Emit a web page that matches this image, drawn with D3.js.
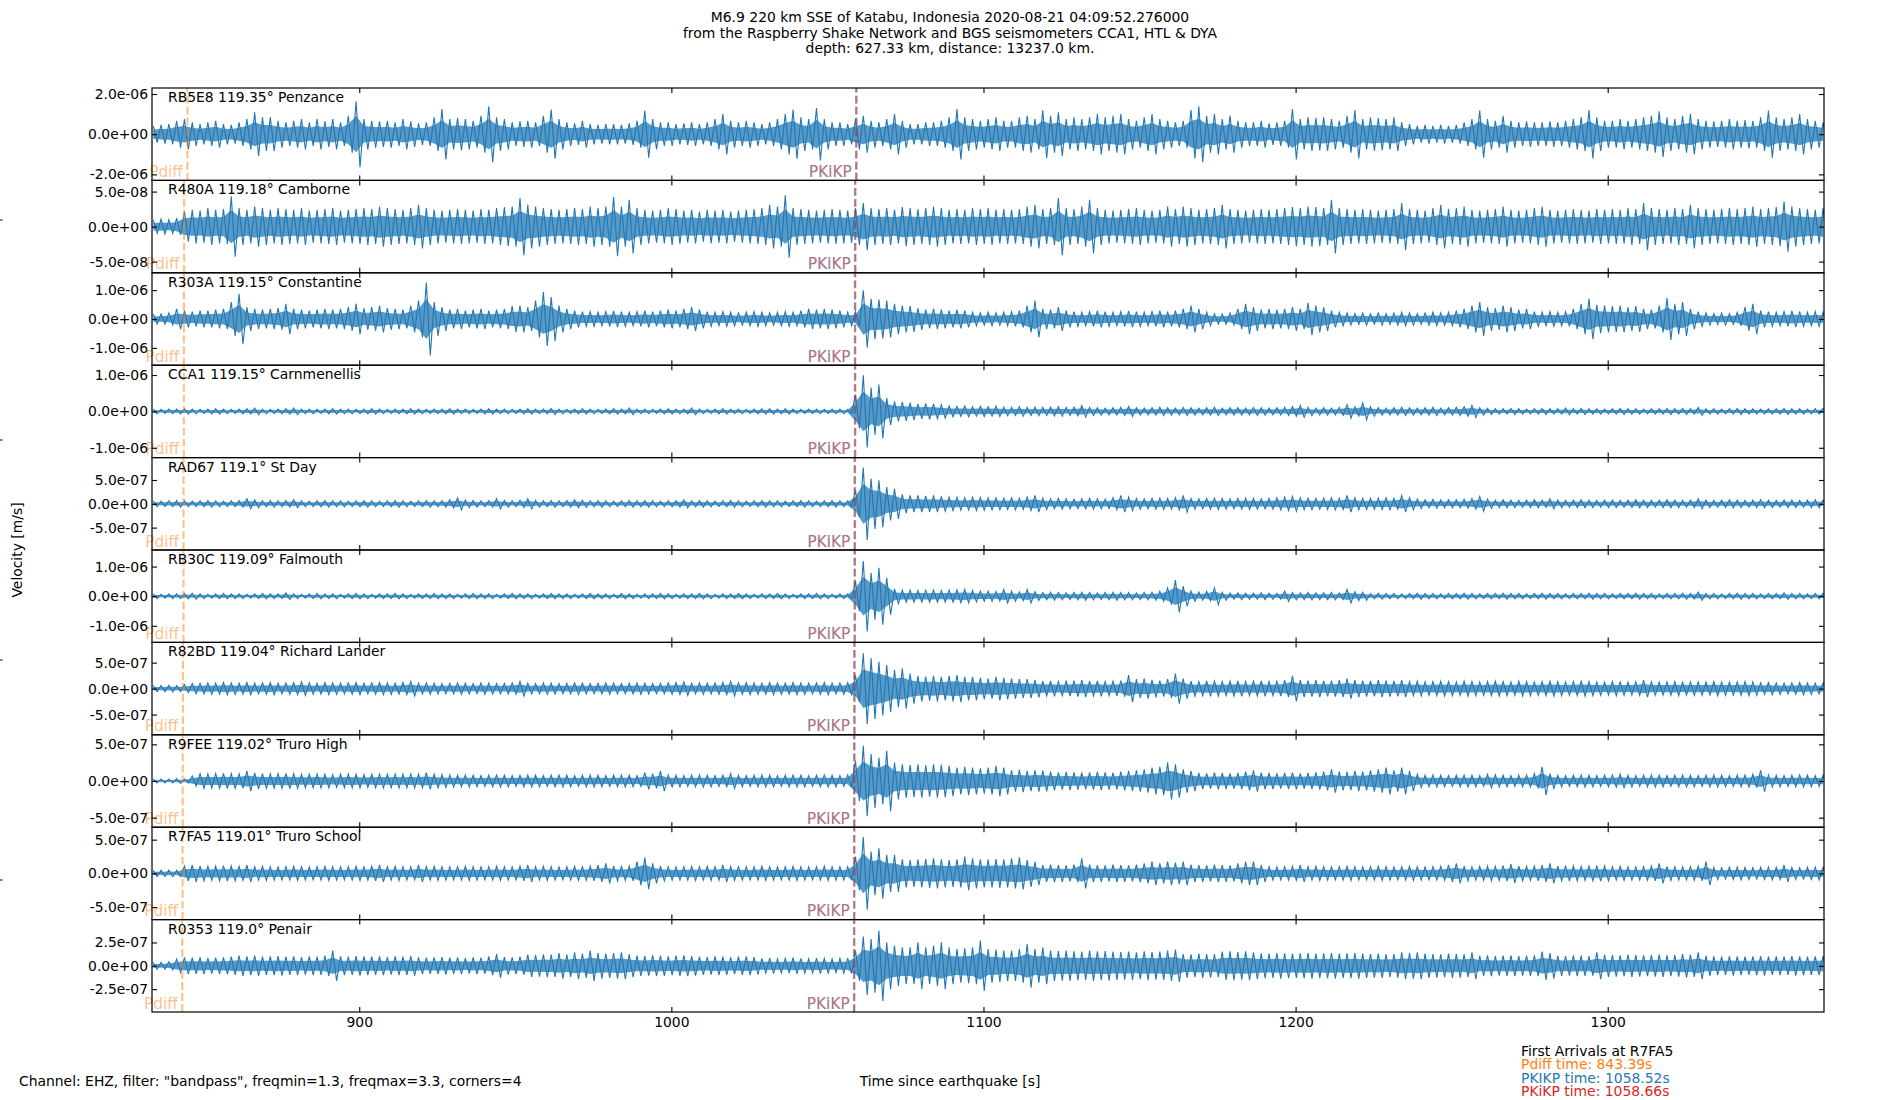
<!DOCTYPE html>
<html>
<head>
<meta charset="utf-8">
<script src="https://cdn.jsdelivr.net/npm/d3@7"></script>
<style>
  body { margin: 0; background: #fff; }
  svg text { font-family: "DejaVu Sans", sans-serif; }
</style>
</head>
<body>
<div id="chart"></div>
<script>
// station info, top panel to bottom panel
const stations  = ["RB5E8", "R480A", "R303A", "CCA1", "RAD67", "RB30C", "R82BD", "R9FEE", "R7FA5", "R0353"];
const distances = [119.35, 119.18, 119.15, 119.15, 119.1, 119.09, 119.04, 119.02, 119.01, 119.0];
const places    = ["Penzance", "Camborne", "Constantine", "Carnmenellis", "St Day", "Falmouth",
                   "Richard Lander", "Truro High", "Truro School", "Penair"];

// arrival times (s since origin) per station
const pdiffTimes = [844.95, 843.9, 843.8, 843.8, 843.7, 843.7, 843.5, 843.45, 843.39, 843.3];
const pkikpTimes = [1059.17, 1058.84, 1058.79, 1058.79, 1058.70, 1058.68, 1058.58, 1058.54, 1058.52, 1058.50];
const pkikpTimes2 = [1059.32, 1058.98, 1058.93, 1058.93, 1058.84, 1058.82, 1058.72, 1058.68, 1058.66, 1058.64]; // PKiKP

// peak velocity of each trace (m/s), y limits and y tick step
const peakVelocity = [1.64e-6, 4.46e-8, 1.26e-6, 9.9e-7, 7.6e-7, 1.19e-6, 6.8e-7, 4.81e-7, 5.38e-7, 3.78e-7];
const yLimits      = [2.3e-6, 6.6e-8, 1.6e-6, 1.27e-6, 9.7e-7, 1.56e-6, 8.9e-7, 6.3e-7, 6.85e-7, 4.95e-7];
const yTickSteps   = [2e-6, 5e-8, 1e-6, 1e-6, 5e-7, 1e-6, 5e-7, 5e-7, 5e-7, 2.5e-7];
const xTicks = [900, 1000, 1100, 1200, 1300];
const xDomain = [833.6, 1369.3];

// trace envelopes (relative amplitude), one value every 2.5 s from 834 s
const startTime = 834, sampleStep = 2.5;
const envRB5E8 = [
  25,28,30,40,45,35,30,35,40,30, 28,35,45,65,50,50,40,35,40,45, 35,45,38,45,35,55,98,45,40,38,
  40,35,45,38,32,35,50,75,45,48, 45,40,55,83,50,45,35,38,40,35, 55,73,45,35,32,40,30,28,30,30,
  28,32,40,70,45,35,35,30,32,35, 30,35,45,60,40,35,40,35,30,35, 45,60,73,50,45,78,45,35,35,30,
  45,55,40,35,45,60,40,30,30,35, 35,40,50,75,50,45,40,45,50,40, 40,50,55,45,71,55,65,45,50,45,
  50,60,50,55,60,45,40,50,60,45, 40,35,40,72,83,55,60,45,55,40, 35,35,40,32,35,40,75,45,50,48,
  50,45,40,55,72,45,50,48,45,50, 35,30,25,28,25,28,25,28,35,45, 70,45,40,55,40,35,38,35,35,38,
  35,40,45,50,72,50,40,40,45,40, 45,50,55,68,50,45,55,60,45,40, 38,40,45,40,42,40,50,70,50,45,
  50,60,45,40,35];
const envR480A = [
  20,22,20,25,45,50,48,55,50,52, 90,55,50,60,55,50,55,52,50,55, 48,50,52,55,48,50,52,55,52,60,
  55,52,50,55,65,55,50,48,50,52, 50,48,52,50,55,58,60,85,65,60, 55,52,50,52,55,52,60,55,60,88,
  60,80,55,50,48,50,55,52,48,50, 45,50,48,50,45,48,50,52,55,65, 60,93,55,52,50,48,50,52,50,48,
  55,70,55,52,55,50,58,55,52,55, 60,55,50,52,50,55,52,55,50,52, 50,52,60,65,52,55,85,55,52,60,
  80,55,50,48,50,52,55,50,48,50, 60,52,60,55,50,52,55,65,52,50, 48,50,52,50,52,55,58,55,60,58,
  55,80,55,52,50,52,50,48,50,52, 70,52,50,48,55,65,52,55,60,50, 48,50,52,60,50,48,50,55,60,50,
  48,50,52,50,48,52,50,52,50,55, 52,70,55,52,50,55,52,65,55,52, 50,52,55,52,55,60,52,55,58,75,
  60,55,52,50,55];
const envR303A = [
  15,15,18,30,25,22,25,25,28,30, 50,75,35,30,28,30,32,45,30,28, 25,28,30,28,30,35,45,32,35,40,
  32,30,28,40,55,108,50,35,28,30, 25,28,30,25,28,30,38,40,35,55, 80,65,40,30,25,22,22,20,22,24,
  22,20,22,25,22,25,28,25,30,35, 28,22,20,22,20,18,20,22,20,18, 20,22,20,25,30,28,30,28,25,20,
  22,85,60,58,55,45,40,38,32,28, 30,28,25,28,25,20,18,20,18,20, 22,25,40,55,30,28,35,25,22,20,
  22,25,22,20,22,24,22,20,22,25, 22,25,30,40,30,20,15,15,18,30, 45,35,28,30,28,30,35,30,48,40,
  35,25,20,18,16,18,15,18,16,18, 20,18,16,18,20,18,20,25,30,40, 50,35,32,40,35,28,30,22,20,22,
  20,22,30,45,60,42,40,38,40,35, 38,30,28,40,62,45,50,30,22,18, 16,18,16,20,35,45,25,22,20,22,
  24,22,20,22,20];
const envCCA1 = [
  7,6,7,7,8,7,6,7,8,7, 6,7,8,10,7,6,7,8,10,7, 7,6,7,8,7,7,6,7,8,7,
  6,7,7,8,7,6,7,7,8,7, 7,6,7,8,7,7,6,7,8,7, 7,9,7,6,7,8,7,6,7,8,
  7,10,7,7,6,7,8,7,7,10, 7,6,7,8,7,7,6,7,8,8, 7,8,7,6,7,7,6,7,7,6,
  50,107,70,80,40,30,28,26,22,24, 22,20,16,15,16,14,15,14,15,13, 12,14,12,13,12,13,14,12,13,17,
  12,11,10,11,12,15,11,10,11,12, 11,10,12,11,10,11,12,10,11,11, 10,12,11,10,11,12,14,18,12,10,
  11,10,12,20,14,25,14,11,10,11, 12,11,10,11,12,10,11,12,14,18, 11,9,8,8,9,8,7,8,9,8,
  8,10,8,9,8,8,7,8,9,8, 8,7,8,8,9,8,9,8,12,8, 8,7,8,9,8,8,7,8,8,9,
  8,8,7,8,9];
const envRAD67 = [
  9,8,9,10,9,8,9,10,9,8, 9,10,15,12,9,10,9,10,12,9, 8,9,10,9,9,8,9,10,9,8,
  9,10,9,8,9,10,9,10,12,18, 11,10,9,10,15,10,9,11,15,10, 9,10,9,10,12,11,9,10,9,8,
  9,10,9,10,9,8,9,10,12,9, 10,9,8,9,10,9,8,9,10,9, 9,8,9,10,9,8,9,10,9,9,
  40,108,75,70,50,45,28,25,25,24, 25,22,20,19,18,20,19,18,18,17, 18,17,20,25,17,15,16,15,14,15,
  16,15,14,18,25,20,16,15,16,17, 16,18,25,16,15,16,17,16,15,16, 17,16,15,16,18,20,22,18,17,16,
  17,18,17,25,18,17,16,17,18,16, 25,18,14,12,13,12,12,12,13,16, 22,14,11,12,11,10,11,12,11,15,
  11,10,11,12,11,10,11,11,10,11, 12,11,10,11,12,11,10,11,15,11, 10,11,12,11,10,11,12,11,10,11,
  11,10,11,12,11];
const envRB30C = [
  7,6,7,7,8,9,7,6,7,8, 7,7,6,7,8,7,7,10,7,6, 7,8,7,7,6,7,8,7,6,7,
  7,8,7,6,7,7,8,7,7,6, 7,8,7,7,6,7,8,7,7,6, 7,8,7,7,6,7,8,7,7,6,
  8,7,6,7,7,8,7,6,7,7, 8,7,6,7,7,8,7,6,7,7, 8,7,6,7,7,8,7,6,7,7,
  45,105,70,85,55,22,18,18,17,18, 18,17,18,19,20,17,15,15,14,20, 15,13,20,13,11,12,11,10,11,12,
  11,10,11,12,11,11,10,11,12,15, 25,48,30,15,12,14,25,12,9,10, 9,9,10,9,9,15,11,10,11,10,
  10,11,10,20,13,12,8,9,8,8, 7,8,9,8,8,7,8,8,9,8, 7,8,8,9,8,8,7,8,9,8,
  8,7,8,8,9,8,8,7,8,8, 9,8,8,7,8,8,9,8,12,8, 8,7,8,9,8,8,7,8,8,10,
  8,8,7,8,8];
const envR82BD = [
  9,9,10,9,12,15,16,17,16,18, 17,16,18,16,17,18,16,17,18,20, 17,16,18,17,16,17,18,16,17,18,
  17,16,18,22,16,17,16,15,16,17, 16,15,17,16,15,16,17,22,16,15, 17,16,15,16,17,16,15,16,17,16,
  15,16,17,16,15,16,17,18,20,16, 17,16,17,18,22,17,18,17,16,18, 17,16,18,17,16,17,18,16,17,18,
  40,105,90,80,70,55,60,45,38,36, 38,35,38,40,35,35,32,30,35,32, 30,28,28,26,22,23,21,22,24,25,
  22,23,21,22,24,40,28,30,26,24, 28,45,30,22,21,23,22,21,22,23, 21,22,23,21,22,25,38,25,24,25,
  23,24,25,30,25,24,23,25,24,23, 25,21,22,20,21,22,21,20,22,21, 20,21,22,21,20,22,21,20,21,22,
  21,20,21,22,21,20,19,21,20,19, 20,25,20,19,20,21,19,20,20,19, 21,20,19,20,21,20,17,18,17,16,
  17,18,17,16,17];
const envR9FEE = [
  6,6,6,7,6,15,22,21,22,23, 22,21,30,24,22,21,22,23,22,20, 20,21,20,19,20,21,20,19,20,21,
  20,21,20,21,20,25,20,19,18,17, 18,17,16,17,18,17,16,17,18,17, 16,17,18,17,16,17,18,17,16,17,
  18,17,16,25,22,30,18,17,16,17, 18,17,16,17,22,17,16,17,18,17, 16,17,18,17,16,17,18,17,16,18,
  60,105,80,70,90,55,50,48,50,47, 50,48,45,40,42,40,38,40,45,40, 32,33,30,32,31,28,26,27,26,25,
  26,27,26,25,28,30,32,35,40,42, 55,50,35,30,24,23,25,24,23,24, 28,32,25,24,23,24,25,23,24,26,
  28,35,28,27,30,28,32,35,40,32, 40,30,20,17,18,17,16,17,18,17, 16,20,18,17,16,17,18,22,42,22,
  17,16,17,18,17,16,17,18,20,17, 16,17,18,17,16,17,18,17,16,17, 18,17,16,17,18,20,32,18,17,16,
  17,18,17,16,17];
const envR7FA5 = [
  9,9,10,9,22,25,22,21,22,23, 22,21,25,20,21,20,19,20,21,20, 19,20,21,20,19,20,21,20,22,25,
  20,21,20,19,25,20,21,20,19,20, 21,20,19,20,21,20,19,22,25,20, 21,20,19,20,21,20,22,25,30,22,
  21,22,35,47,30,22,20,19,20,21, 20,21,20,25,21,20,19,20,21,20, 19,20,21,20,19,20,21,20,19,20,
  50,108,65,75,55,55,42,40,42,43, 45,42,40,42,50,45,42,42,43,42, 45,48,40,35,25,26,25,24,26,45,
  26,25,24,26,25,24,26,30,35,30, 35,32,35,26,25,24,26,25,24,30, 35,35,25,20,19,20,21,25,20,21,
  20,19,20,21,20,19,20,21,20,19, 20,21,20,19,20,21,25,30,22,20, 21,22,21,23,28,22,21,22,25,30,
  22,23,22,21,22,23,22,20,21,20, 19,20,22,30,21,20,19,20,22,35, 18,17,18,19,18,17,18,19,18,25,
  18,17,18,19,18];
const envR0353 = [
  10,10,12,20,25,24,25,23,24,25, 27,30,28,30,27,28,29,27,28,26, 28,27,30,45,28,27,29,28,27,28,
  26,28,27,29,25,24,25,26,24,25, 23,25,24,28,35,26,25,27,33,32, 34,33,38,33,40,36,45,38,36,38,
  40,34,30,29,31,30,28,30,31,29, 27,26,28,27,25,27,28,26,22,23, 21,22,24,22,21,23,22,20,22,23,
  45,87,80,105,70,60,55,55,70,55, 60,70,55,50,52,55,75,50,48,45, 45,50,65,50,55,45,44,45,43,42,
  45,43,44,42,41,42,40,43,41,42, 45,48,35,34,36,35,34,42,43,41, 43,40,37,36,38,37,36,37,38,36,
  37,38,36,37,38,36,35,36,34,35, 40,38,40,36,35,34,36,35,34,40, 30,31,29,30,31,29,30,31,42,38,
  30,29,31,30,29,40,33,32,31,33, 32,31,32,33,31,32,35,33,40,30, 28,27,29,28,27,28,29,27,28,27,
  29,28,27,28,29];
const envelopes = [envRB5E8, envR480A, envR303A, envCCA1, envRAD67, envRB30C, envR82BD, envR9FEE, envR7FA5, envR0353];

const titleLines = [
  "M6.9 220 km SSE of Katabu, Indonesia 2020-08-21 04:09:52.276000",
  "from the Raspberry Shake Network and BGS seismometers CCA1, HTL & DYA",
  "depth: 627.33 km, distance: 13237.0 km."
];
const filterText = 'Channel: EHZ, filter: "bandpass", freqmin=1.3, freqmax=3.3, corners=4';
const refStation = 8; // R7FA5

// ---- layout ----
const W = 1900, H = 1100;
const plotL = 152, plotR = 1824, plotT = 88, plotB = 1012;
const panelH = (plotB - plotT) / stations.length;
const C0 = "#1f77b4", C1 = "#ff7f0e", C3 = "#d62728";
const fs = 13.9;

const svg = d3.select("#chart").append("svg").attr("width", W).attr("height", H);
const x = d3.scaleLinear().domain(xDomain).range([plotL, plotR]);

function sci(v) {
  const [m, e] = v.toExponential(1).split("e");
  const sign = e[0] === "-" ? "-" : "+";
  return m + "e" + sign + e.replace(/[-+]/, "").padStart(2, "0");
}
const degText = d => Number.isInteger(d) ? d.toFixed(1) : String(d);

function styleAxis(g) {
  g.select(".domain").remove();
  g.attr("font-family", "DejaVu Sans").attr("font-size", fs);
  g.selectAll(".tick line").attr("stroke", "#000").attr("stroke-width", 1.1);
}

stations.forEach((st, i) => {
  const y0 = plotT + i * panelH, y1 = y0 + panelH;
  const y = d3.scaleLinear().domain([-yLimits[i], yLimits[i]]).range([y1, y0]);
  const g = svg.append("g");

  svg.append("clipPath").attr("id", "clip" + i)
    .append("rect").attr("x", plotL).attr("y", y0).attr("width", plotR - plotL).attr("height", panelH);

  // trace: light envelope band plus a swing up/down inside each sample window
  const env = envelopes[i];
  const maxEnv = d3.max(env);
  const pts = env.map((v, k) => ({ t: startTime + k * sampleStep, a: v / maxEnv * peakVelocity[i] }));
  const area = d3.area().x(d => x(d.t)).y0(d => y(-d.a * 0.55)).y1(d => y(d.a * 0.55));
  g.append("path").datum(pts).attr("d", area)
    .attr("fill", C0).attr("fill-opacity", 0.75)
    .attr("clip-path", `url(#clip${i})`);
  const swing = pts.flatMap(d => [[d.t, d.a], [d.t + sampleStep / 2, -d.a]]);
  g.append("path").datum(swing)
    .attr("d", d3.line().x(d => x(d[0])).y(d => y(d[1])))
    .attr("fill", "none").attr("stroke", C0).attr("stroke-width", 1.1)
    .attr("clip-path", `url(#clip${i})`);

  // arrival lines
  const arrivals = [
    { t: pdiffTimes[i], c: C1, name: "Pdiff" },
    { t: pkikpTimes[i], c: C0, name: "PKIKP" },
    { t: pkikpTimes2[i], c: C3, name: "PKiKP" }
  ];
  arrivals.forEach(a => {
    g.append("line").attr("x1", x(a.t)).attr("x2", x(a.t)).attr("y1", y1).attr("y2", y0)
      .attr("stroke", a.c).attr("stroke-opacity", 0.5).attr("stroke-width", 2.1)
      .attr("stroke-dasharray", "7.7,3.3");
    g.append("text").attr("x", x(a.t) - 4.5).attr("y", y1 - 3.5)
      .attr("text-anchor", "end").attr("font-size", 15.3)
      .attr("fill", a.c).attr("fill-opacity", 0.5).text(a.name);
  });

  // axes, ticks pointing inward
  const yt = yTickSteps[i];
  g.append("g").attr("transform", `translate(${plotL},0)`)
    .call(d3.axisLeft(y).tickValues([-yt, 0, yt]).tickSize(-5).tickPadding(4).tickFormat(sci))
    .call(styleAxis);
  g.append("g").attr("transform", `translate(${plotR},0)`)
    .call(d3.axisRight(y).tickValues([-yt, 0, yt]).tickSize(-5).tickFormat(""))
    .call(styleAxis);
  g.append("g").attr("transform", `translate(0,${y0})`)
    .call(d3.axisTop(x).tickValues(xTicks).tickSize(-5).tickFormat(""))
    .call(styleAxis);
  g.append("g").attr("transform", `translate(0,${y1})`)
    .call(d3.axisBottom(x).tickValues(xTicks).tickSize(-5).tickPadding(5)
      .tickFormat(i === stations.length - 1 ? d3.format("d") : ""))
    .call(styleAxis);

  g.append("rect").attr("x", plotL).attr("y", y0).attr("width", plotR - plotL).attr("height", panelH)
    .attr("fill", "none").attr("stroke", "#000").attr("stroke-width", 1.2);

  g.append("text").attr("x", plotL + 16).attr("y", y0 + 14).attr("font-size", fs)
    .text(`${st} ${degText(distances[i])}° ${places[i]}`);
});

// title
svg.append("g").selectAll("text").data(titleLines).join("text")
  .attr("x", W / 2).attr("y", (d, k) => 22 + k * 15.5)
  .attr("text-anchor", "middle").attr("font-size", fs).text(d => d);

// y label
svg.append("text").attr("transform", `translate(17,${H / 2}) rotate(-90)`)
  .attr("text-anchor", "middle").attr("dy", "0.35em").attr("font-size", fs).text("Velocity [m/s]");

// faint ticks of the full-figure axes at the left edge
const fy = d3.scaleLinear().domain([0, 1]).range([H, 0]);
svg.append("g").selectAll("line").data([0.2, 0.4, 0.6, 0.8]).join("line")
  .attr("x1", 0).attr("x2", 2.5).attr("y1", d => fy(d)).attr("y2", d => fy(d))
  .attr("stroke", "#000").attr("stroke-width", 1);

// bottom texts
svg.append("text").attr("x", 19).attr("y", 1086).attr("font-size", fs).text(filterText);
svg.append("text").attr("x", 950).attr("y", 1086).attr("text-anchor", "middle")
  .attr("font-size", fs).text("Time since earthquake [s]");

const legendLines = [
  { s: `First Arrivals at ${stations[refStation]}`, c: "#000" },
  { s: `Pdiff time: ${pdiffTimes[refStation].toFixed(2)}s`, c: C1 },
  { s: `PKIKP time: ${pkikpTimes[refStation].toFixed(2)}s`, c: C0 },
  { s: `PKiKP time: ${pkikpTimes2[refStation].toFixed(2)}s`, c: C3 }
];
svg.append("g").selectAll("text").data(legendLines).join("text")
  .attr("x", 1521).attr("y", (d, k) => 1056 + k * 13.4)
  .attr("font-size", fs).attr("fill", d => d.c).text(d => d.s);
</script>
</body>
</html>
